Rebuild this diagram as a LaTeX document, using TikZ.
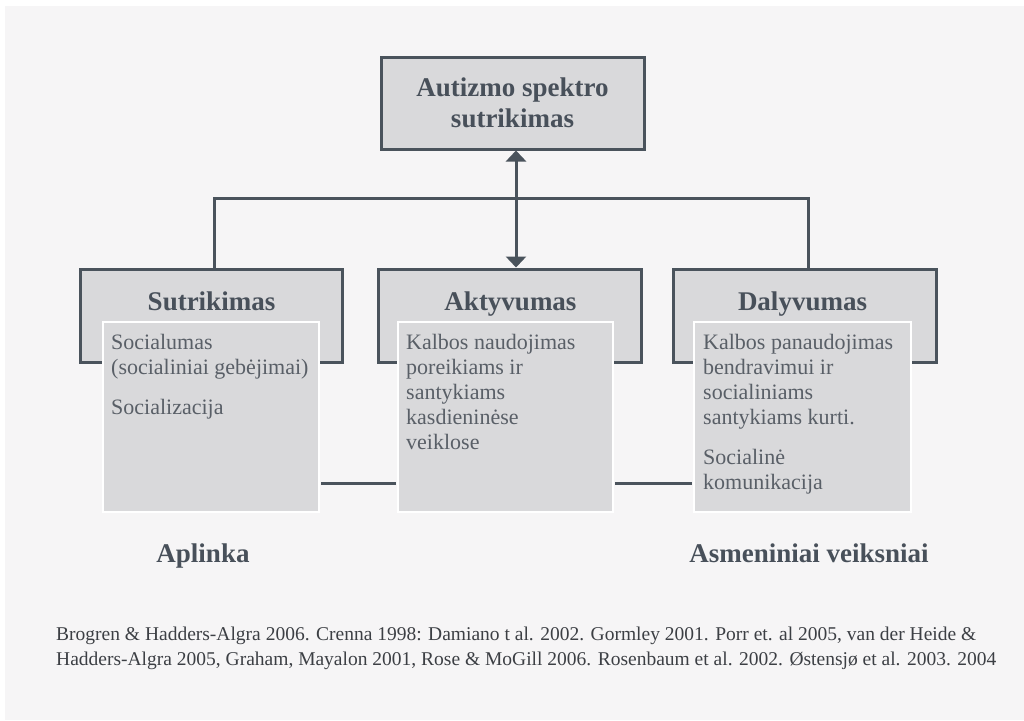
\documentclass[tikz,border=0pt]{standalone}
\usepackage{fontspec}
\setmainfont{Liberation Serif}
\usetikzlibrary{arrows.meta,calc}
\definecolor{bg}{HTML}{F6F5F6}
\definecolor{boxfill}{HTML}{D9D9DB}
\definecolor{edge}{HTML}{4A535C}
\definecolor{titletext}{HTML}{48505A}
\definecolor{bodytext}{HTML}{595F67}
\definecolor{foottext}{HTML}{3C3F44}
\newcommand{\bodylines}[1]{\begin{tabular}[t]{@{}l@{}}#1\end{tabular}}
\tikzset{
  hdrbox/.style={draw=edge, fill=boxfill, line width=3pt, minimum height=93pt, inner sep=0pt},
  topbox/.style={draw=edge, fill=boxfill, line width=3pt, minimum width=263pt, minimum height=92pt, inner sep=0pt, align=center,
     text=titletext, font=\fontsize{27}{31}\selectfont\bfseries},
  contbox/.style={draw=white, fill=boxfill, line width=2pt, minimum height=190pt, inner sep=0pt},
  titletxt/.style={anchor=base, text=titletext, font=\fontsize{27}{31}\selectfont\bfseries, inner sep=0pt},
  bodytxt/.style={anchor=base west, text=bodytext, font=\fontsize{22}{25}\selectfont, inner sep=0pt},
  foottxt/.style={anchor=base west, text=foottext, font=\fontsize{19.5}{25}\selectfont, inner sep=0pt},
  conn/.style={draw=edge, line width=3pt},
  arr/.style={conn, {Triangle[width=20pt,length=11pt]}-{Triangle[width=20pt,length=11pt]}}
}
\begin{document}
\begin{tikzpicture}[x=1pt,y=-1pt]
\useasboundingbox (0,0) rectangle (1024,720);
\fill[white] (0,0) rectangle (1024,720);
\fill[bg] (5,6) rectangle (1024,720);

% top box
\node[topbox] (top) at (512.5,103) {Autizmo spektro\\sutrikimas};

% header boxes
\node[hdrbox, minimum width=262pt] (lh) at (211,315.5) {};
\node[hdrbox, minimum width=263pt] (mh) at (509.5,315.5) {};
\node[hdrbox, minimum width=263pt] (rh) at (804.5,315.5) {};

\node[titletxt] (lt) at (211.5,310) {Sutrikimas};
\node[titletxt] (mt) at (510.5,310) {Aktyvumas};
\node[titletxt] (rt) at (802.5,310) {Dalyvumas};

% connectors
\coordinate (ax) at (516,0);
\draw[arr] (top.south -| ax) -- (mh.north -| ax);
\coordinate (jl) at (214,198);
\coordinate (jr) at (808,198);
\draw[conn] (jl |- lh.north) -- (jl) -- (jr) -- (jr |- rh.north);

% content boxes
\node[contbox, minimum width=216pt] (lc) at (211,417) {};
\node[contbox, minimum width=215pt] (mc) at (505.5,417) {};
\node[contbox, minimum width=217pt] (rc) at (802.5,417) {};

\coordinate (hy) at (0,483);
\draw[conn] ([xshift=1pt]lc.east |- hy) -- ([xshift=-1pt]mc.west |- hy);
\draw[conn] ([xshift=1pt]mc.east |- hy) -- ([xshift=-1pt]rc.west |- hy);

% content texts
\node[bodytxt] (lb) at (111,349) {\bodylines{Socialumas\\(socialiniai gebėjimai)\\[15pt]Socializacija}};
\node[bodytxt] (mb) at (406,349) {\bodylines{Kalbos naudojimas\\poreikiams ir\\santykiams\\kasdieninėse\\veiklose}};
\node[bodytxt] (rb) at (703,349) {\bodylines{Kalbos panaudojimas\\bendravimui ir\\socialiniams\\santykiams kurti.\\[15pt]Socialinė\\komunikacija}};

% bottom labels
\node[titletxt] (ap) at (203,562) {Aplinka};
\node[titletxt] (as) at (809,562) {Asmeniniai veiksniai};

% footnote
\node[foottxt] (f1) at (56,640) {Brogren \& Hadders-Algra 2006. Crenna 1998: Damiano t al. 2002. Gormley 2001. Porr et. al 2005, van der Heide \&};
\node[foottxt] (f2) at (56,665) {Hadders-Algra 2005, Graham, Mayalon 2001, Rose \& MoGill 2006. Rosenbaum et al. 2002. Østensjø et al. 2003. 2004};
\end{tikzpicture}
\end{document}
